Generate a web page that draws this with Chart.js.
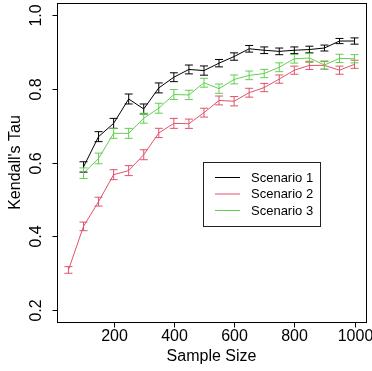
<!DOCTYPE html>
<html><head><meta charset="utf-8">
<script src="https://cdn.jsdelivr.net/npm/chart.js@4.4.1/dist/chart.umd.min.js"></script>
<style>html,body{margin:0;padding:0;background:#fff}canvas{display:block}</style>
</head><body>
<canvas id="c" width="372" height="371"></canvas>
<script>
// ---- data ----
const sampleSizes = [50,100,150,200,250,300,350,400,450,500,550,600,650,700,750,800,850,900,950,1000];
const seriesNames = ['Scenario 1','Scenario 2','Scenario 3'];
const scenario1 = [null,0.588,0.670,0.706,0.772,0.745,0.802,0.831,0.852,0.849,0.869,0.887,0.908,0.904,0.901,0.904,0.906,0.910,0.929,0.929];
const scenario2 = [0.309,0.427,0.494,0.567,0.578,0.621,0.680,0.706,0.705,0.735,0.768,0.766,0.789,0.803,0.826,0.850,0.863,0.863,0.850,0.866];
const scenario3 = [null,0.571,0.611,0.679,0.679,0.720,0.747,0.784,0.783,0.816,0.800,0.825,0.836,0.841,0.858,0.881,0.883,0.864,0.882,0.881];
const scenario1Err = [null,0.014,0.0135,0.0135,0.0135,0.0135,0.0135,0.012,0.012,0.0125,0.010,0.010,0.009,0.009,0.009,0.009,0.009,0.008,0.007,0.0085];
const scenario2Err = [0.009,0.0117,0.012,0.0135,0.0135,0.0135,0.0126,0.0135,0.0126,0.012,0.012,0.0126,0.012,0.0112,0.0112,0.011,0.011,0.0103,0.011,0.011];
const scenario3Err = [null,0.0144,0.0144,0.0135,0.0135,0.0135,0.0135,0.0135,0.0126,0.012,0.0126,0.012,0.0117,0.0112,0.012,0.0117,0.012,0.0112,0.0112,0.0112];
const xTicks = [200,400,600,800,1000];
const xTickLabels = ['200','400','600','800','1000'];
const yTicks = [0.2,0.4,0.6,0.8,1.0];
const yTickLabels = ['0.2','0.4','0.6','0.8','1.0'];
const xTitle = 'Sample Size';
const yTitle = "Kendall's Tau";

const colors = ['#000000','#DF536B','#61D04F'];
const values = [scenario1, scenario2, scenario3];
const errors = [scenario1Err, scenario2Err, scenario3Err];
const FONT = '"Liberation Sans", Arial, Helvetica, sans-serif';

function pts(vals){
  const out=[];
  sampleSizes.forEach((s,i)=>{ if(vals[i]!=null) out.push({x:s,y:vals[i],i:i}); });
  return out;
}

const rStyle = {
  id:'rStyle',
  afterDatasetsDraw(chart){
    const ctx=chart.ctx, xs=chart.scales.x, ys=chart.scales.y;
    chart.data.datasets.forEach((ds,k)=>{
      const errs=errors[k];
      ctx.save();
      ctx.strokeStyle=ds.borderColor; ctx.lineWidth=1;
      ds.data.forEach(p=>{
        const e=errs[p.i];
        const px=xs.getPixelForValue(p.x);
        const t=ys.getPixelForValue(p.y+e), b=ys.getPixelForValue(p.y-e);
        ctx.beginPath();
        ctx.moveTo(px,t); ctx.lineTo(px,b);
        ctx.moveTo(px-4,t); ctx.lineTo(px+4,t);
        ctx.moveTo(px-4,b); ctx.lineTo(px+4,b);
        ctx.stroke();
      });
      ctx.restore();
    });
  },
  afterDraw(chart){
    const ctx=chart.ctx, xs=chart.scales.x, ys=chart.scales.y, a=chart.chartArea;
    ctx.save();
    ctx.strokeStyle='#000'; ctx.lineWidth=1;
    // box
    ctx.strokeRect(Math.round(a.left)+0.5, Math.round(a.top)+0.5, Math.round(a.right-a.left), Math.round(a.bottom-a.top));
    const bottom=Math.round(a.bottom)+0.5, left=Math.round(a.left)+0.5;
    // x ticks
    ctx.fillStyle='#000';
    ctx.font='16px '+FONT;
    ctx.textAlign='center'; ctx.textBaseline='middle';
    xTicks.forEach((v,i)=>{
      const px=Math.round(xs.getPixelForValue(v))+0.5;
      ctx.beginPath(); ctx.moveTo(px,bottom); ctx.lineTo(px,bottom+5); ctx.stroke();
      ctx.fillText(xTickLabels[i], px, 336.5);
    });
    ctx.fillText(xTitle, (a.left+a.right)/2, 356.5);
    // y ticks
    yTicks.forEach((v,i)=>{
      const py=Math.round(ys.getPixelForValue(v))+0.5;
      ctx.beginPath(); ctx.moveTo(left,py); ctx.lineTo(left-5,py); ctx.stroke();
      ctx.save(); ctx.translate(37,py); ctx.rotate(-Math.PI/2);
      ctx.fillText(yTickLabels[i],0,0); ctx.restore();
    });
    ctx.save(); ctx.translate(16,(a.top+a.bottom)/2); ctx.rotate(-Math.PI/2);
    ctx.fillText(yTitle,0,0); ctx.restore();
    // legend
    ctx.strokeStyle='#222';
    ctx.strokeRect(203.5,162.5,117,64);
    const rows=[177.5,194,210.5];
    ctx.font='13px '+FONT; ctx.textAlign='left';
    chart.data.datasets.forEach((ds,k)=>{
      ctx.strokeStyle=ds.borderColor;
      ctx.beginPath(); ctx.moveTo(215,rows[k]); ctx.lineTo(240,rows[k]); ctx.stroke();
      ctx.fillStyle='#000';
      ctx.fillText(ds.label, 251, rows[k]+0.5);
    });
    ctx.restore();
  }
};

new Chart(document.getElementById('c'), {
  type:'line',
  data:{
    datasets: values.map((v,k)=>({
      label: seriesNames[k],
      data: pts(v),
      borderColor: colors[k],
      backgroundColor: colors[k],
      borderWidth: 1,
      pointRadius: 0,
      tension: 0,
      fill: false
    }))
  },
  options:{
    responsive:false,
    animation:false,
    devicePixelRatio:1,
    parsing:false,
    layout:{padding:{left:57,top:3,right:6,bottom:49}},
    plugins:{legend:{display:false},tooltip:{enabled:false}},
    scales:{
      x:{type:'linear',min:12,max:1038,display:false},
      y:{type:'linear',min:0.168,max:1.032,display:false}
    }
  },
  plugins:[rStyle]
});
</script>
</body></html>
